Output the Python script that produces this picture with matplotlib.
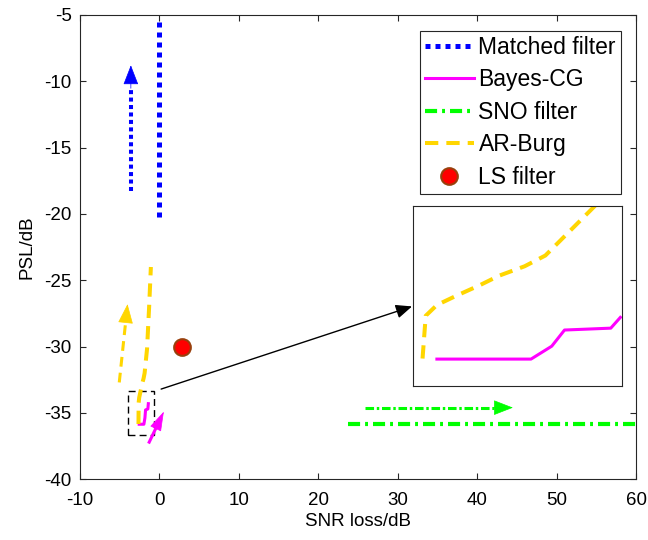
import matplotlib
matplotlib.use("Agg")
import matplotlib.pyplot as plt
from matplotlib.patches import Rectangle

plt.rcParams['font.family'] = ['Liberation Sans', 'DejaVu Sans']
plt.rcParams['axes.unicode_minus'] = False

# curves (SNR loss, PSL) in dB
mf_x = [0.0, 0.0]
mf_y = [-5.5, -20.6]
bayes_x = [-2.55, -1.96, -1.83, -1.75, -1.46, -1.40]
bayes_y = [-35.85, -35.85, -35.37, -34.77, -34.70, -34.30]
sno_x = [23.8, 60.0]
sno_y = [-35.85, -35.85]
ar_x = [-2.64, -2.62, -2.55, -2.43, -2.28, -2.16, -2.00, -1.87, -1.56, -1.30, -1.08]
ar_y = [-35.83, -34.24, -33.84, -33.50, -33.10, -32.75, -32.40, -32.00, -30.16, -27.00, -24.00]
ls_x = [2.8]
ls_y = [-30.0]

# trend arrows: (start, end)
mf_arrow = ((-3.6, -18.3), (-3.6, -8.8))
bayes_arrow = ((-1.29, -37.2), (0.55, -34.9))
sno_arrow = ((25.9, -34.6), (44.5, -34.6))
ar_arrow = ((-5.06, -32.7), (-4.02, -26.8))

# zoom box and inset limits
box_x, box_y, box_w, box_h = -3.9, -36.65, 3.23, 3.28
inset_xlim = (-2.70, -1.39)
inset_ylim = (-36.84, -30.16)

blue, magenta, green, gold = (0, 0, 1), (1, 0, 1), (0, 1, 0), (1, 0.84, 0)
edge = (0.15, 0.15, 0.15)

fig = plt.figure(figsize=(6.48, 5.4), dpi=100)
ax = fig.add_axes([0.1235, 0.1124, 0.858, 0.86])


def arrow(ax, p0, p1, color, lw, style, head=1.0, width=0.35):
    (x0, y0), (x1, y1) = p0, p1
    hx = x1 - (x1 - x0) * 0.14 * head
    hy = y1 - (y1 - y0) * 0.14 * head
    ax.plot([x0, hx], [y0, hy], color=color, lw=lw, ls=style)
    ax.annotate('', xy=(x1, y1), xytext=(hx, hy),
                arrowprops=dict(arrowstyle='-|>,head_length=0.9,head_width=%g' % width,
                                color=color, lw=0.5, shrinkA=0, shrinkB=0,
                                mutation_scale=14))


ax.plot(mf_x, mf_y, color=blue, lw=3.6, ls=(0, (1, 1)), label='Matched filter')
ax.plot(bayes_x, bayes_y, color=magenta, lw=2.2, label='Bayes-CG')
ax.plot(sno_x, sno_y, color=green, lw=3.0, ls=(0, (2.9, 1.2, 0.7, 1.2)), label='SNO filter')
ax.plot(ar_x, ar_y, color=gold, lw=2.9, ls=(0, (3.3, 2.0)), label='AR-Burg')
ax.plot(ls_x, ls_y, 'o', ms=12, mfc='red', mec=(0.6, 0.25, 0.05), mew=1.5,
        ls='none', label='LS filter')

arrow(ax, *mf_arrow, blue, 2.9, (0, (1, 0.85)), head=1.3)
arrow(ax, *bayes_arrow, magenta, 2.2, '-', head=1.8, width=0.28)
arrow(ax, *sno_arrow, green, 2.2, (0, (2.8, 0.9, 0.8, 0.9)), head=0.9)
arrow(ax, *ar_arrow, gold, 2.2, (0, (3.2, 2.0)), head=1.6)

ax.add_patch(Rectangle((box_x, box_y), box_w, box_h, fill=False,
                       ec='black', lw=1.0, ls=(0, (5, 3))))
ax.annotate('', xy=(31.8, -26.97), xytext=(0.21, -33.2),
            arrowprops=dict(arrowstyle='-|>,head_length=0.7,head_width=0.3',
                            color='black', lw=1.0, shrinkA=0, shrinkB=0,
                            mutation_scale=14))

ax.set_xlim(-10, 60)
ax.set_ylim(-40, -5)
ax.set_xticks(range(-10, 61, 10))
ax.set_yticks(range(-40, -4, 5))
ax.tick_params(direction='in', top=True, right=True, labelsize=13.5,
               color=edge, length=4.5)
ax.tick_params(axis='x', pad=9)
ax.tick_params(axis='y', pad=6)
for s in ax.spines.values():
    s.set_color(edge)
    s.set_linewidth(0.8)
ax.set_xlabel('SNR loss/dB', fontsize=13.5, labelpad=3)
ax.set_ylabel('PSL/dB', fontsize=13.5, labelpad=6)

leg = ax.legend(loc='upper right', bbox_to_anchor=(0.973, 0.9655), fontsize=16.5,
                handlelength=2.15, handletextpad=0.2, labelspacing=0.41,
                borderpad=0.22, borderaxespad=0, fancybox=False, framealpha=1)
leg.get_frame().set_edgecolor(edge)
leg.get_frame().set_linewidth(0.8)

# magnified view of the boxed region
ins = fig.add_axes([0.6373, 0.2857, 0.3225, 0.3328])
ins.plot(bayes_x, bayes_y, color=magenta, lw=2.2)
ins.plot(ar_x, ar_y, color=gold, lw=2.9, ls=(0, (3.3, 2.0)))
ins.set_xlim(*inset_xlim)
ins.set_ylim(*inset_ylim)
ins.set_xticks([])
ins.set_yticks([])
for s in ins.spines.values():
    s.set_color(edge)
    s.set_linewidth(0.8)

fig.savefig('out.png', dpi=100)
